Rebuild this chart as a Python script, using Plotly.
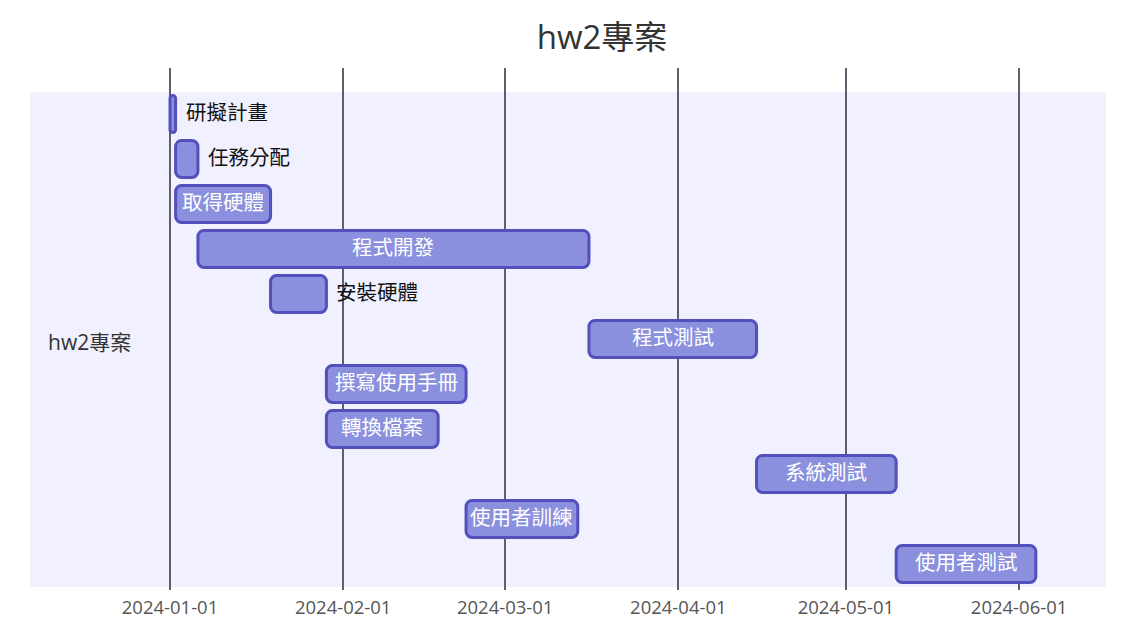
import plotly.graph_objects as go
import pandas as pd

# ---- data ----
title = "hw2專案"
section = "hw2專案"
tasks = ["研擬計畫", "任務分配", "取得硬體", "程式開發", "安裝硬體", "程式測試",
         "撰寫使用手冊", "轉換檔案", "系統測試", "使用者訓練", "使用者測試"]
starts = ["2024-01-01", "2024-01-02", "2024-01-02", "2024-01-06", "2024-01-19", "2024-03-16",
          "2024-01-29", "2024-01-29", "2024-04-15", "2024-02-23", "2024-05-10"]
durations_days = [1, 4, 17, 70, 10, 30, 25, 20, 25, 20, 25]
tick_dates = ["2024-01-01", "2024-02-01", "2024-03-01", "2024-04-01", "2024-05-01", "2024-06-01"]

FONT = "Open Sans, Noto Sans CJK TC, sans-serif"
DAY_MS = 86400000

start_ts = pd.to_datetime(starts)
dur_td = pd.to_timedelta(durations_days, unit="D")
end_ts = start_ts + dur_td
mid_ts = start_ts + dur_td / 2
rows = list(range(len(tasks)))

fig = go.Figure()
fig.add_trace(go.Bar(
    orientation="h",
    y=rows,
    base=[s.strftime("%Y-%m-%d") for s in start_ts],
    x=[d * DAY_MS for d in durations_days],
    width=0.82,
    marker=dict(color="#8a90dd", line=dict(color="#534fbc", width=3), cornerradius=6),
    hoverinfo="skip",
    showlegend=False,
))

# labels: inside if they fit, otherwise to the right of the bar
px_per_day = 5.586
for i, name in enumerate(tasks):
    text_w = len(name) * 21
    bar_w = durations_days[i] * px_per_day
    if bar_w >= text_w + 4:
        fig.add_annotation(x=mid_ts[i].isoformat(), y=i, text=name, showarrow=False,
                           xanchor="center", yanchor="middle", yshift=1.5,
                           font=dict(family=FONT, size=20.5, color="white"))
    else:
        fig.add_annotation(x=end_ts[i].isoformat(), y=i, text=name, showarrow=False,
                           xanchor="left", yanchor="middle", xshift=8, yshift=1.5,
                           font=dict(family=FONT, size=20.5, color="#111111"))

# section label
fig.add_annotation(xref="paper", x=0, xshift=16, y=5, yshift=-3, text=section, showarrow=False,
                   xanchor="left", yanchor="middle",
                   font=dict(family=FONT, size=21, color="#333333"))

# section band
fig.add_shape(type="rect", xref="paper", x0=0, x1=1, yref="y", y0=-0.49, y1=10.51,
              fillcolor="#f0f0fe", line=dict(width=0), layer="below")

fig.update_layout(
    width=1138, height=640,
    margin=dict(l=30, r=32, t=68, b=50),
    paper_bgcolor="white", plot_bgcolor="white",
    title=dict(text=title, x=602 / 1138, xanchor="center", y=1 - 37 / 640, yanchor="middle",
               font=dict(family=FONT, size=33, color="#333333")),
    xaxis=dict(type="date", range=["2023-12-06 22:30", "2024-06-16 13:30"],
               tickvals=tick_dates, ticktext=tick_dates,
               showgrid=True, gridcolor="#5f5d6e", gridwidth=1.6,
               zeroline=False, showline=False, ticks="", ticklabelstandoff=4,
               tickfont=dict(family=FONT, size=18.5, color="#555555")),
    yaxis=dict(range=[10.578, -1.022], visible=False, showgrid=False, zeroline=False),
    font=dict(family=FONT),
)

fig.write_html("out.html")
